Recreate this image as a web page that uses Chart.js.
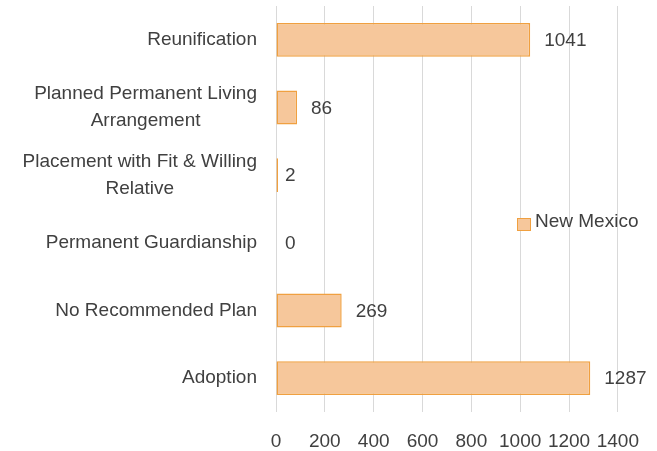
<!DOCTYPE html>
<html>
<head>
<meta charset="utf-8">
<script src="https://cdn.jsdelivr.net/npm/chart.js@4/dist/chart.umd.min.js"></script>
<style>
html,body{margin:0;padding:0;background:#fff;}
#wrap{width:657px;height:451px;position:relative;}
</style>
</head>
<body>
<div id="wrap"><canvas id="c"></canvas></div>
<script>
const categories = [
  ["Reunification"],
  ["Planned Permanent Living", "Arrangement"],
  ["Placement with Fit & Willing", "Relative"],
  ["Permanent Guardianship"],
  ["No Recommended Plan"],
  ["Adoption"]
];
const seriesName = "New Mexico";
const values = [1041, 86, 2, 0, 269, 1287];
const xTicks = [0, 200, 400, 600, 800, 1000, 1200, 1400];

const FONT = "'Liberation Sans', Arial, sans-serif";
const TEXT = '#404040';
const FS = 19;
const FILL = '#F6C79B';
const EDGE = '#F0A040';

const labelPlugin = {
  id: 'customText',
  afterDraw(chart) {
    const ctx = chart.ctx;
    const y = chart.scales.y;
    ctx.save();
    ctx.font = FS + 'px ' + FONT;
    ctx.fillStyle = TEXT;
    ctx.textBaseline = 'middle';
    const rightEdge = 257;
    const lh = 27;
    categories.forEach((lines, i) => {
      const cy = y.getPixelForValue(i);
      const widths = lines.map(l => ctx.measureText(l).width);
      const bw = Math.max(...widths);
      const cx = rightEdge - bw / 2;
      ctx.textAlign = 'center';
      lines.forEach((l, j) => {
        const ly = cy + (j - (lines.length - 1) / 2) * lh;
        ctx.fillText(l, cx, ly);
      });
    });
    const meta = chart.getDatasetMeta(0);
    ctx.textAlign = 'left';
    meta.data.forEach((bar, i) => {
      const off = values[i] < 10 ? 7 : 14;
      ctx.fillText(String(values[i]), bar.x + off, bar.y + 1);
    });
    // legend
    const lx = 517, ly = 218;
    ctx.fillStyle = FILL;
    ctx.strokeStyle = EDGE;
    ctx.lineWidth = 1;
    ctx.fillRect(lx + 0.5, ly + 0.5, 13, 12);
    ctx.strokeRect(lx + 0.5, ly + 0.5, 13, 12);
    ctx.fillStyle = TEXT;
    ctx.textAlign = 'left';
    ctx.fillText(seriesName, 535, ly + 4);
    ctx.restore();
  }
};

new Chart(document.getElementById('c'), {
  type: 'bar',
  data: {
    labels: categories,
    datasets: [{
      label: seriesName,
      data: values,
      backgroundColor: (c) => c.raw === 0 ? 'rgba(0,0,0,0)' : FILL,
      borderColor: (c) => c.raw === 0 ? 'rgba(0,0,0,0)' : EDGE,
      borderWidth: 1.5,
      borderSkipped: false,
      minBarLength: 2,
      barPercentage: 0.5,
      categoryPercentage: 1.0
    }]
  },
  options: {
    indexAxis: 'y',
    responsive: true,
    maintainAspectRatio: false,
    animation: false,
    layout: { padding: { left: 0, right: 39, top: 6, bottom: 0 } },
    plugins: {
      legend: { display: false },
      tooltip: { enabled: false }
    },
    scales: {
      x: {
        min: 0, max: 1400,
        afterBuildTicks(scale) { scale.ticks = xTicks.map(v => ({ value: v })); },
        afterFit(scale) { scale.height = 39; },
        grid: { color: '#D9D9D9', lineWidth: 1, drawTicks: false },
        border: { display: false },
        ticks: {
          padding: 18,
          color: TEXT,
          font: { family: FONT, size: FS },
          maxRotation: 0,
          autoSkip: false,
          callback: (v) => String(v)
        }
      },
      y: {
        afterFit(scale) { scale.width = 276; },
        grid: { display: false, drawTicks: false },
        border: { display: false },
        ticks: { display: false }
      }
    }
  },
  plugins: [labelPlugin]
});
</script>
</body>
</html>
